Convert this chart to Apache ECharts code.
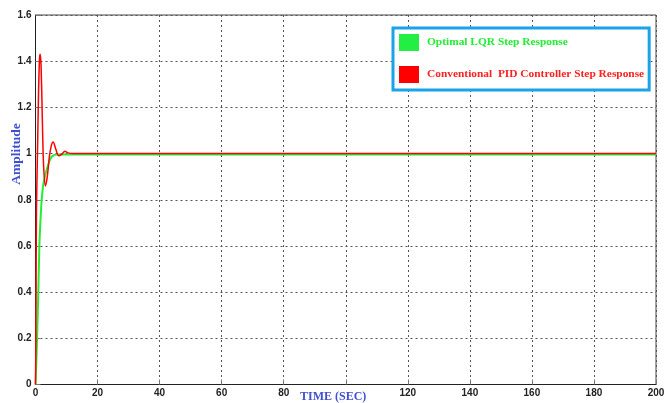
<!DOCTYPE html>
<html>
<head>
<meta charset="utf-8">
<script src="https://cdn.jsdelivr.net/npm/echarts@6/dist/echarts.min.js"></script>
<style>html,body{margin:0;padding:0;background:#fff;}#c{width:670px;height:403px;}</style>
</head>
<body>
<div id="c"></div>
<script>
// ---- data ----
const seriesNames = ['Optimal LQR Step Response', 'Conventional  PID Controller Step Response'];
const lqrTime = [0, 0.15, 0.5, 0.9, 1.25, 1.6, 2.0, 2.5, 3.0, 3.6, 4.2, 4.7, 5.5, 6.8, 9, 200];
const lqrAmp  = [0, 0.05, 0.2, 0.4, 0.6, 0.71, 0.8, 0.865, 0.9, 0.93, 0.955, 0.975, 0.99, 0.996, 0.996, 0.996];
const pidTime = [0, 0.1, 0.2, 0.3, 0.45, 0.7, 1.0, 1.3, 1.5, 1.8, 2.2, 2.6, 3.2, 3.8, 4.5, 5.2, 5.7, 6.3, 7.0, 7.5, 8.3, 9.5, 10.5, 12, 200];
const pidAmp  = [0, 0.15, 0.45, 0.75, 0.87, 1.05, 1.28, 1.41, 1.43, 1.38, 1.15, 0.95, 0.86, 0.9, 0.99, 1.04, 1.05, 1.03, 1.0, 0.99, 0.995, 1.01, 1.003, 1.0, 1.0];
const xTicks = [0, 20, 40, 60, 80, 100, 120, 140, 160, 180, 200];
const xTickLabels = ['0', '20', '40', '60', '80', '', '120', '140', '160', '180', '200'];
const yTickLabels = ['0', '0.2', '0.4', '0.6', '0.8', '1', '1.2', '1.4', '1.6'];
const xTitle = 'TIME (SEC)';
const yTitle = 'Amplitude';

const lqrData = lqrTime.map((t, i) => [t, lqrAmp[i]]);
const pidData = pidTime.map((t, i) => [t, pidAmp[i]]);

const chart = echarts.init(document.getElementById('c'), null, {renderer: 'canvas'});
const tickFont = {fontFamily: 'Liberation Sans Narrow, Arial', fontWeight: 'bold', fontSize: 10, color: '#222'};
chart.setOption({
  backgroundColor: '#fff',
  animation: false,
  grid: {left: 35.5, right: 14, top: 15, bottom: 18.5, show: true, borderColor: '#444', borderWidth: 1, backgroundColor: '#fff'},
  xAxis: {
    type: 'value', min: 0, max: 200, interval: 20,
    axisLine: {show: true, lineStyle: {color: '#222', width: 1}},
    axisTick: {show: true, inside: true, length: 5, lineStyle: {color: '#777'}},
    axisLabel: Object.assign({margin: 4, formatter: v => xTickLabels[xTicks.indexOf(v)] ?? ''}, tickFont),
    splitLine: {show: true, lineStyle: {color: '#555', type: [2, 3], width: 1}}
  },
  yAxis: {
    type: 'value', min: 0, max: 1.6, interval: 0.2,
    axisLine: {show: true, lineStyle: {color: '#222', width: 1}},
    axisTick: {show: true, inside: true, length: 5, lineStyle: {color: '#777'}},
    axisLabel: Object.assign({margin: 4, formatter: v => yTickLabels[Math.round(v / 0.2)] ?? ''}, tickFont),
    splitLine: {show: true, lineStyle: {color: '#555', type: [2, 3], width: 1}}
  },
  legend: {
    orient: 'vertical', left: 393, top: 28,
    padding: [6, 5, 7, 6],
    backgroundColor: '#fff', borderColor: '#1aa3e8', borderWidth: 3,
    itemWidth: 20, itemHeight: 17, itemGap: 15, icon: 'rect',
    textStyle: {fontFamily: 'Liberation Serif, Times New Roman', fontWeight: 'bold', fontSize: 11.4, padding: [0, 0, 0, 3]},
    data: [
      {name: seriesNames[0], textStyle: {color: '#22ee33'}, itemStyle: {color: '#22ee44'}},
      {name: seriesNames[1], textStyle: {color: '#ff2020'}, itemStyle: {color: '#ff0000'}}
    ]
  },
  graphic: [
    {type: 'text', left: 300, top: 391, style: {text: xTitle, font: 'bold 12px "Liberation Serif", serif', fill: '#4050d0'}},
    {type: 'text', x: 17, y: 154, rotation: Math.PI / 2, style: {text: yTitle, font: 'bold 13.5px "Liberation Serif", serif', fill: '#4050d0', align: 'center', verticalAlign: 'middle'}}
  ],
  series: [
    {name: seriesNames[0], type: 'line', data: lqrData, showSymbol: false, smooth: 0.3, z: 2,
     lineStyle: {color: '#22ee33', width: 2}, itemStyle: {color: '#22ee44'}},
    {name: seriesNames[1], type: 'line', data: pidData, showSymbol: false, smooth: 0.3, z: 3,
     lineStyle: {color: '#ff0000', width: 1.5}, itemStyle: {color: '#ff0000'}}
  ]
});
</script>
</body>
</html>
